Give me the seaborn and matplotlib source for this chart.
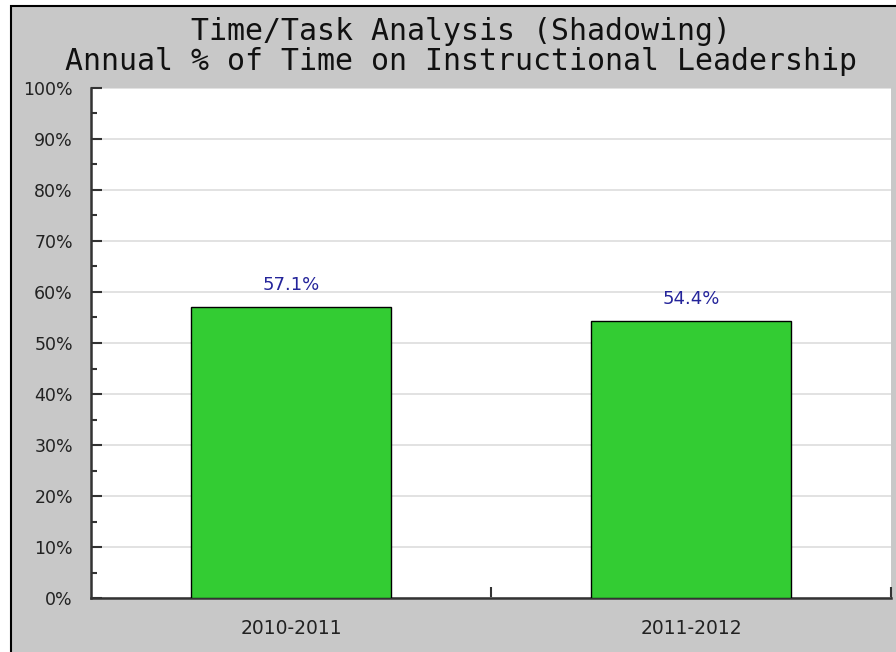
import matplotlib
matplotlib.use('Agg')
import matplotlib.pyplot as plt
import seaborn as sns
from matplotlib.patches import Rectangle
from matplotlib.ticker import MultipleLocator, FuncFormatter

# data
periods = ['2010-2011', '2011-2012']
pct_time = [57.1, 54.4]
title_lines = ['Time/Task Analysis (Shadowing)',
               'Annual % of Time on Instructional Leadership']

sns.set_style('white')
plt.rcParams['font.family'] = ['DejaVu Sans']

W, H = 896, 652
fig = plt.figure(figsize=(W / 100, H / 100), dpi=100, facecolor='white')

# gray panel with black border (cropped on right/bottom)
fig.patches.append(Rectangle((11 / W, -0.05), 1.0, 1 - 6 / H + 0.05,
                             transform=fig.transFigure, facecolor='#C8C8C8',
                             edgecolor='black', linewidth=1.5, zorder=-5))

ax = fig.add_axes([91 / W, 1 - 598 / H, 800 / W, 510 / H])
ax.set_zorder(2)
ax.set_facecolor('white')

sns.barplot(x=periods, y=pct_time, color='#33CC33', saturation=1,
            edgecolor='black', linewidth=1, width=0.5, ax=ax, zorder=3)

ax.set_xlim(-0.5, 1.5)
ax.set_ylim(0, 100)

# gridlines
ax.yaxis.set_major_locator(MultipleLocator(10))
ax.yaxis.set_minor_locator(MultipleLocator(5))
ax.yaxis.set_major_formatter(FuncFormatter(lambda v, p: f'{int(v)}%'))
ax.grid(axis='y', which='major', color='#DDDDDD', linewidth=1.2, zorder=0)
ax.set_axisbelow(True)

# spines
for s in ['top', 'right']:
    ax.spines[s].set_visible(False)
for s in ['left', 'bottom']:
    ax.spines[s].set_color('#333333')
    ax.spines[s].set_linewidth(1.8)

ax.tick_params(which='both', left=True, bottom=True)
ax.tick_params(axis='y', which='major', direction='in', length=8, width=1.5,
               color='#333333', pad=13, labelsize=12.5, labelcolor='#222222')
ax.tick_params(axis='y', which='minor', direction='in', length=4, width=1.5,
               color='#333333')

# category separators as minor ticks on x
ax.set_xticks([0.5, 1.5], minor=True)
ax.tick_params(axis='x', which='major', length=0, pad=15, labelsize=13.5,
               labelcolor='#222222')
ax.tick_params(axis='x', which='minor', direction='in', length=8, width=1.5,
               color='#333333')
ax.set_xlabel('')
ax.set_ylabel('')

# value labels
ax.bar_label(ax.containers[0], labels=[f'{v:.1f}%' for v in pct_time],
             padding=9, color='#24249A', fontsize=13)

# title
fig.text(461 / W, 1 - 32 / H, title_lines[0], ha='center', va='center',
         family='DejaVu Sans Mono', fontsize=21.5, color='#111111')
fig.text(461 / W, 1 - 61 / H, title_lines[1], ha='center', va='center',
         family='DejaVu Sans Mono', fontsize=21.5, color='#111111')

fig.savefig('out.png', dpi=100)
